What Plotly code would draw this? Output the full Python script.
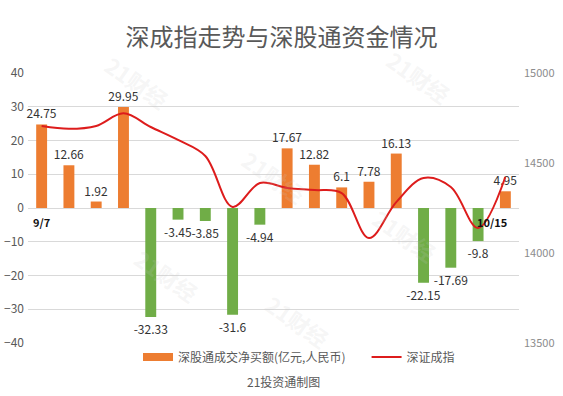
import plotly.graph_objects as go

dates = ["9/7","9/8","9/9","9/10","9/11","9/14","9/15","9/16","9/17","9/18",
         "9/21","9/22","9/23","9/24","10/12","10/13","10/14","10/15"]
net_buy = [24.75, 12.66, 1.92, 29.95, -32.33, -3.45, -3.85, -31.6, -4.94,
           17.67, 12.82, 6.1, 7.78, 16.13, -22.15, -17.69, -9.8, 4.95]
szci = [14705, 14690, 14706, 14776, 14700, 14628, 14539, 14256, 14389,
        14361, 14350, 14333, 14083, 14283, 14417, 14367, 14139, 14422]
left_ticks = [-40, -30, -20, -10, 0, 10, 20, 30, 40]
right_ticks = [13500, 14000, 14500, 15000]

ORANGE = "#ED7D31"
GREEN = "#70AD47"
RED = "#DD1C1C"
FONT = "Noto Sans CJK SC"

bar_colors = [ORANGE if v >= 0 else GREEN for v in net_buy]

fig = go.Figure()
fig.add_trace(go.Bar(
    x=dates, y=net_buy, name="深股通成交净买额(亿元,人民币)", showlegend=False,
    marker=dict(color=bar_colors, line=dict(width=0)),
    text=[f"{v:g}" for v in net_buy], textposition="outside",
    textfont=dict(size=12, color="#333333", family=FONT),
    constraintext="none",
    cliponaxis=False, width=0.4,
))
# legend entry for the bars (wide rectangle swatch)
fig.add_trace(go.Scatter(
    x=[None], y=[None], name="深股通成交净买额(亿元,人民币)" + "\u00a0" * 6, mode="lines",
    line=dict(color=ORANGE, width=8),
))
fig.add_trace(go.Scatter(
    x=dates, y=szci, name="深证成指", yaxis="y2", mode="lines",
    line=dict(color=RED, width=2, shape="spline", smoothing=1.0),
))

T, B = 73, 343
def paper_y(py):
    return (B - py) / (B - T)

annotations = [
    dict(text="<b>9/7</b>", x=dates[0], y=0, xref="x", yref="y", yshift=-14,
         showarrow=False, font=dict(size=11, color="#111111", family=FONT)),
    dict(text="<b>10/15</b>", x=dates[-1], y=0, xref="x", yref="y", yshift=-14,
         xshift=-13, showarrow=False, font=dict(size=11, color="#111111", family=FONT)),
    dict(text="21投资通制图", x=0.52, y=paper_y(381), xref="paper", yref="paper",
         showarrow=False, yanchor="middle",
         font=dict(size=12, color="#595959", family=FONT)),
]

# faint watermarks
for (wx, wy) in [(0.14, 1.1), (0.5, 0.75), (0.2, 0.12), (0.55, -0.05), (0.85, 0.4), (0.88, 1.12)]:
    annotations.append(dict(text="<b>21财经</b>", x=wx, y=wy, xref="paper", yref="paper",
                            showarrow=False, textangle=35,
                            font=dict(size=22, color="rgba(200,200,200,0.18)", family=FONT)))

fig.update_layout(
    width=563, height=396,
    margin=dict(l=28, r=44, t=T, b=396 - B, autoexpand=False),
    paper_bgcolor="white", plot_bgcolor="white",
    title=dict(text="深成指走势与深股通资金情况", x=0.5, xanchor="center",
               y=1 - 38/396, yanchor="middle",
               font=dict(size=24, color="#595959", family=FONT)),
    font=dict(family=FONT, color="#595959"),
    xaxis=dict(showticklabels=False, showgrid=False, zeroline=False, showline=False,
               ticks="", automargin=False),
    yaxis=dict(range=[-40, 40], tickvals=left_ticks, showgrid=True,
               gridcolor="#D9D9D9", gridwidth=1, zeroline=True, zerolinecolor="#D9D9D9",
               zerolinewidth=1, tickfont=dict(size=12, color="#595959", family=FONT),
               ticks="", ticklabelstandoff=3, automargin=False),
    yaxis2=dict(range=[13500, 15000], tickvals=right_ticks, ticktext=[str(t) for t in right_ticks],
                overlaying="y", side="right",
                showgrid=False, zeroline=False, automargin=False, ticklabelstandoff=4,
                tickfont=dict(size=11, color="#8C8C8C", family=FONT), ticks=""),
    legend=dict(orientation="h", x=(138 - 28) / 491, xanchor="left", y=paper_y(357),
                yanchor="middle",
                font=dict(size=12, color="#595959", family=FONT), itemwidth=30,
                bgcolor="rgba(0,0,0,0)"),
    bargap=0.6,
    annotations=annotations,
    showlegend=True,
)

fig.write_html("out.html", config={"displayModeBar": False},
               post_script="document.body.style.margin='0';")
